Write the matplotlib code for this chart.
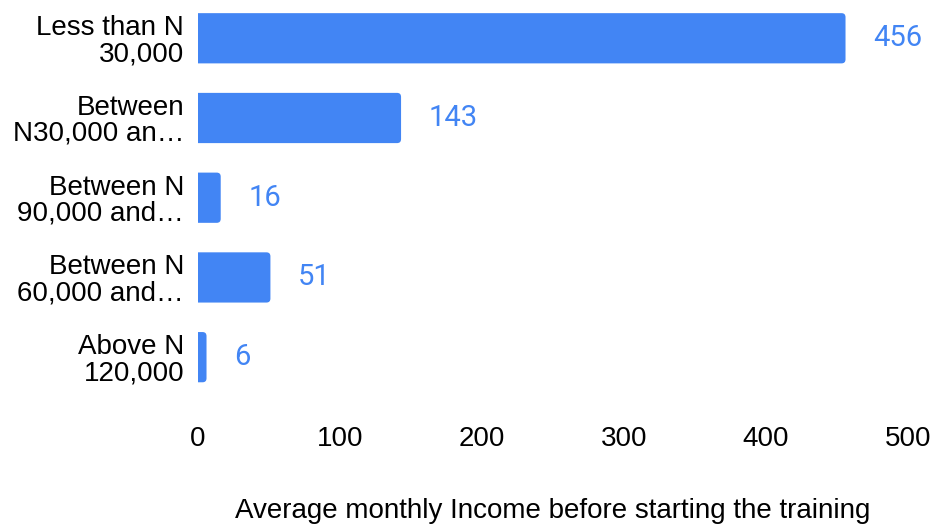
import matplotlib
matplotlib.use("Agg")
import matplotlib.pyplot as plt
from matplotlib.patches import FancyBboxPatch

categories = ["Less than N\n30,000", "Between\nN30,000 an\u2026", "Between N\n90,000 and\u2026",
              "Between N\n60,000 and\u2026", "Above N\n120,000"]
counts = [456, 143, 16, 51, 6]
x_ticks = [0, 100, 200, 300, 400, 500]
x_title = "Average monthly Income before starting the training"

BLUE = "#4285F4"
plt.rcParams["font.family"] = ["Liberation Sans", "DejaVu Sans"]

fig = plt.figure(figsize=(9.3, 5.25), dpi=100)
ax = fig.add_axes([198 / 930, 1 - 405 / 525, 710 / 930, 405 / 525])

pos = list(range(len(categories)))
bars = ax.barh(pos, counts, height=0.63, color=BLUE)

# swap the plain rectangles for ones with rounded ends
r = 2.8
for b in bars:
    p = FancyBboxPatch((b.get_x() - r, b.get_y()), b.get_width() + r, b.get_height(),
                       boxstyle=f"round,pad=0,rounding_size={r}",
                       mutation_aspect=0.018, facecolor=BLUE, edgecolor="none")
    ax.add_patch(p)
    b.remove()

for y, v in zip(pos, counts):
    ax.annotate(str(v), (v, y), xytext=(20, 0), textcoords="offset points",
                va="center", ha="left", fontsize=21, color=BLUE, family="Roboto")

ax.set_xlim(0, 500)
ax.set_ylim(4.6, -0.48)
ax.set_yticks(pos)
ax.set_yticklabels(categories, fontsize=20, ha="right", linespacing=1.0)
ax.set_xticks(x_ticks)
ax.set_xticklabels([str(t) for t in x_ticks], fontsize=20)
ax.tick_params(length=0)
ax.tick_params(axis="y", pad=10)
ax.tick_params(axis="x", pad=15)
ax.set_xlabel(x_title, fontsize=20, labelpad=33)
for s in ax.spines.values():
    s.set_visible(False)

fig.savefig("out.png", dpi=100)
